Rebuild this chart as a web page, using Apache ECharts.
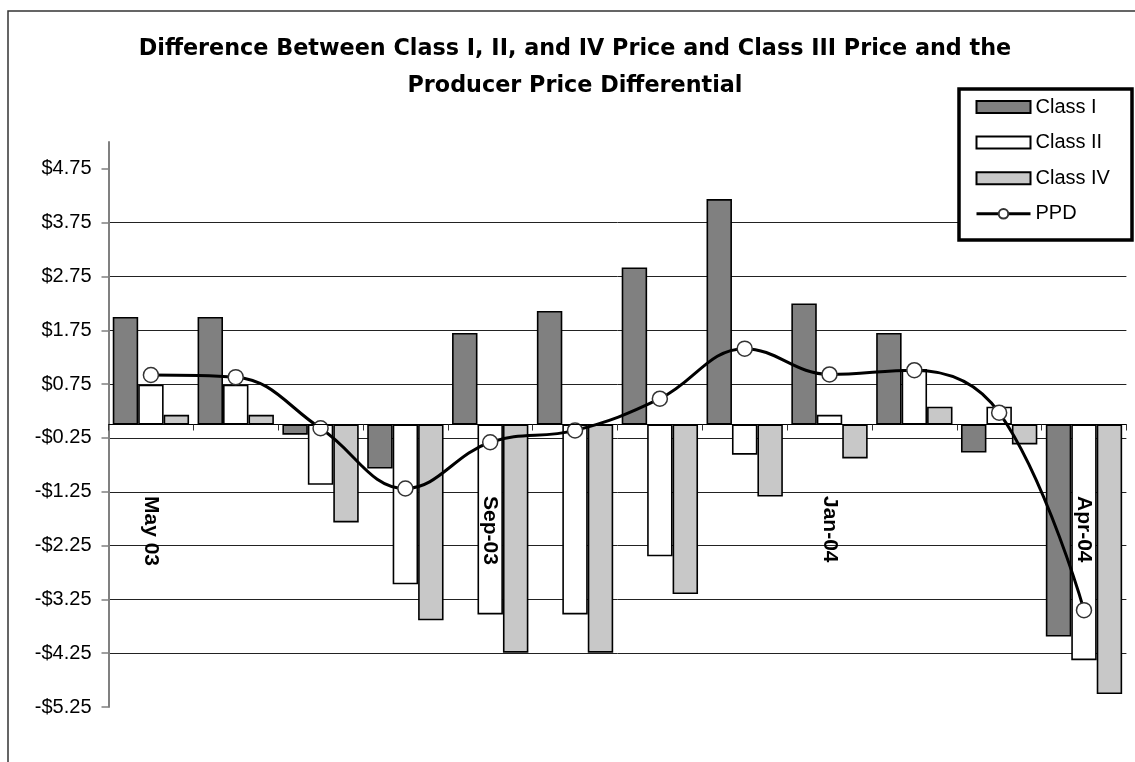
<!DOCTYPE html>
<html>
<head>
<meta charset="utf-8">
<script src="https://cdn.jsdelivr.net/npm/echarts@6/dist/echarts.min.js"></script>
<style>
html,body{margin:0;padding:0;background:#fff;}
#chart{width:1135px;height:762px;}
</style>
</head>
<body>
<div id="chart"></div>
<script>
const titleText = 'Difference Between Class I, II, and IV Price and Class III Price and the\nProducer Price Differential';
const categories = ['May 03','Jun-03','Jul-03','Aug-03','Sep-03','Oct-03','Nov-03','Dec-03','Jan-04','Feb-04','Mar-04','Apr-04'];
const shownLabels = ['May 03','Sep-03','Jan-04','Apr-04'];
const classI  = [2.00, 2.00, -0.19, -0.82, 1.70, 2.11, 2.92, 4.19, 2.25, 1.70, -0.52, -3.94];
const classII = [0.74, 0.74, -1.12, -2.97, -3.53, -3.53, -2.45, -0.56, 0.18, 1.03, 0.33, -4.38];
const classIV = [0.18, 0.18, -1.82, -3.64, -4.24, -4.24, -3.15, -1.34, -0.63, 0.33, -0.37, -5.01];
const ppd     = [0.92, 0.88, -0.07, -1.19, -0.33, -0.11, 0.48, 1.41, 0.93, 1.01, 0.22, -3.45];
const yTicks  = [-5.25, -4.25, -3.25, -2.25, -1.25, -0.25, 0.75, 1.75, 2.75, 3.75, 4.75];
const yMin = -5.25, yMax = 5.25, yStep = 1;

const chart = echarts.init(document.getElementById('chart'), null, {renderer:'canvas'});
const fmt = v => {
  if (v > 4.9) return '';
  const a = Math.abs(v).toFixed(2);
  return (v < 0 ? '-$' : '$') + a;
};
const barStyle = c => ({color: c, borderColor: '#000', borderWidth: 1.6});
chart.setOption({
  animation: false,
  backgroundColor: '#fff',
  title: {
    text: titleText,
    left: 570, top: 25, textAlign: 'center',
    textStyle: {fontFamily: 'DejaVu Sans', fontWeight: 'bold', fontSize: 22.3, color: '#000', lineHeight: 37.6}
  },
  graphic: [
    {type: 'rect', z: 0, silent: true, shape: {x: 8, y: 11, width: 1300, height: 900},
     style: {fill: 'none', stroke: '#333', lineWidth: 1.5}},
    {type: 'rect', z: 1, silent: true, shape: {x: 959, y: 89, width: 173, height: 151},
     style: {fill: '#fff', stroke: '#000', lineWidth: 3.5}}
  ],
  legend: {
    orient: 'vertical', left: 975, top: 97, padding: 0, z: 5,
    itemWidth: 54, itemHeight: 12, itemGap: 15.6,
    textStyle: {fontFamily: 'Liberation Sans', fontSize: 20, color: '#000', lineHeight: 20},
    data: [
      {name: 'Class I', icon: 'rect'},
      {name: 'Class II', icon: 'rect'},
      {name: 'Class IV', icon: 'rect'},
      {name: 'PPD', lineStyle: {width: 3, color: '#000'}}
    ]
  },
  grid: {left: 108.5, right: 8.6, top: 142, bottom: 55, containLabel: false, outerBoundsMode: 'none'},
  xAxis: {
    type: 'category', data: categories, z: 10,
    axisLine: {onZero: true, lineStyle: {color: '#000', width: 1}},
    axisTick: {show: true, interval: 0, length: 6, lineStyle: {color: '#333'}},
    axisLabel: {
      interval: (i, name) => shownLabels.indexOf(name) >= 0,
      rotate: -90, margin: -211,
      fontFamily: 'Liberation Sans', fontWeight: 'bold', fontSize: 21, color: '#000'
    },
    splitLine: {show: false}
  },
  yAxis: {
    type: 'value', min: yMin, max: yMax, interval: yStep,
    axisLine: {show: true, lineStyle: {color: '#808080', width: 2}},
    axisTick: {show: true, length: 7, customValues: yTicks, lineStyle: {color: '#808080', width: 1.5}},
    axisLabel: {formatter: fmt, customValues: yTicks, margin: 17, fontFamily: 'Liberation Sans', fontSize: 20, color: '#000'},
    splitLine: {show: true, showMinLine: false, showMaxLine: false, lineStyle: {color: '#222', width: 1}}
  },
  series: [
    {name: 'Class I', type: 'bar', data: classI, barGap: '0%', barCategoryGap: '10%', itemStyle: barStyle('#808080')},
    {name: 'Class II', type: 'bar', data: classII, barGap: '0%', barCategoryGap: '10%', itemStyle: barStyle('#ffffff')},
    {name: 'Class IV', type: 'bar', data: classIV, barGap: '0%', barCategoryGap: '10%', itemStyle: barStyle('#c8c8c8')},
    {name: 'PPD', type: 'line', data: ppd, smooth: 0.4, z: 5,
     symbol: 'circle', symbolSize: 15, showAllSymbol: true,
     lineStyle: {color: '#000', width: 3},
     itemStyle: {color: '#fff', borderColor: '#333', borderWidth: 1.5}}
  ]
});
</script>
</body>
</html>
